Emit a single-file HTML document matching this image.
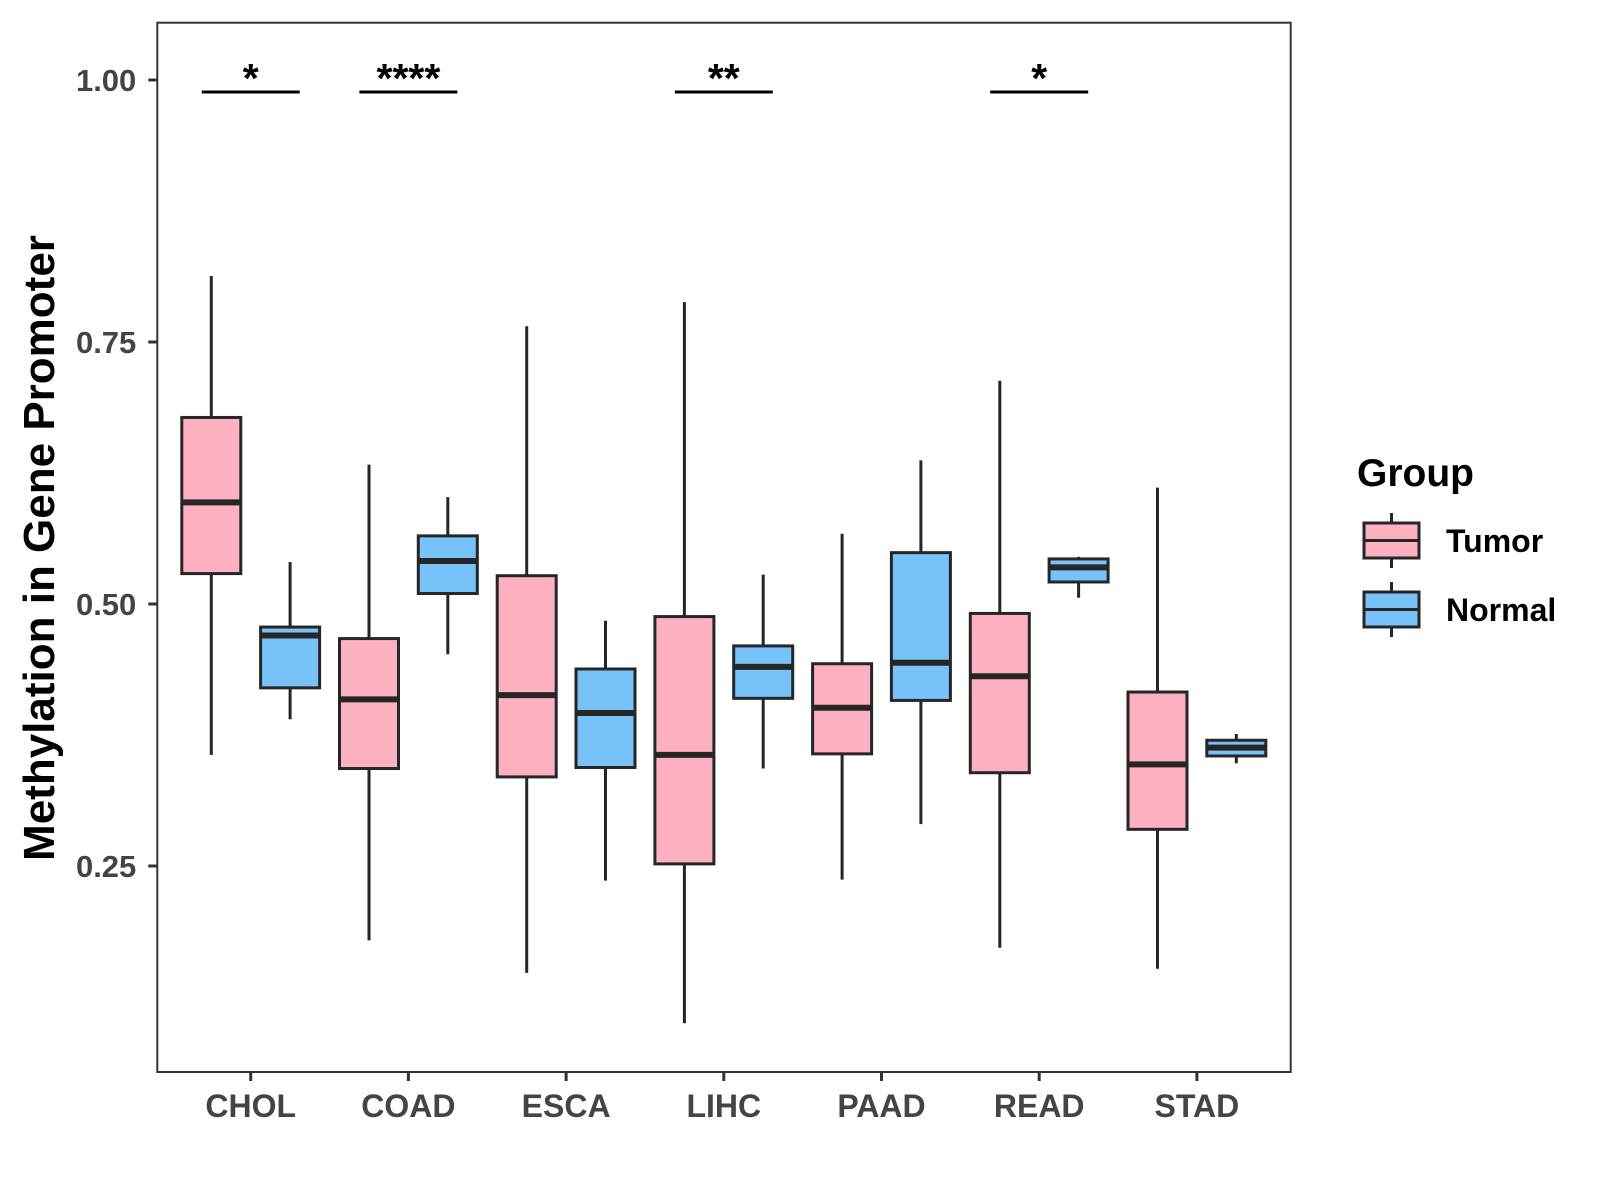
<!DOCTYPE html>
<html><head><meta charset="utf-8">
<style>
html,body{margin:0;padding:0;background:#fff;}
svg{display:block;}
text{font-family:"Liberation Sans",Arial,sans-serif;font-weight:bold;}
</style></head>
<body>
<svg id="chart" width="1600" height="1200" viewBox="0 0 1600 1200" xmlns="http://www.w3.org/2000/svg">
<rect x="0" y="0" width="1600" height="1200" fill="#fff"/>
<g id="plot"></g>
</svg>
<script>
const categories = ["CHOL","COAD","ESCA","LIHC","PAAD","READ","STAD"];
// [whiskerLow, q1, median, q3, whiskerHigh]
const tumorStats = [
  [0.356,0.529,0.597,0.678,0.813],
  [0.179,0.343,0.409,0.467,0.633],
  [0.148,0.335,0.413,0.527,0.765],
  [0.100,0.252,0.356,0.488,0.788],
  [0.237,0.357,0.401,0.443,0.567],
  [0.172,0.339,0.431,0.491,0.713],
  [0.152,0.285,0.347,0.416,0.611]
];
const normalStats = [
  [0.390,0.420,0.470,0.478,0.540],
  [0.452,0.510,0.541,0.565,0.602],
  [0.236,0.344,0.396,0.438,0.484],
  [0.343,0.410,0.440,0.460,0.528],
  [0.290,0.408,0.444,0.549,0.637],
  [0.506,0.521,0.535,0.543,0.545],
  [0.348,0.355,0.363,0.370,0.376]
];
const sigLabels = ["*","****","","**","","*",""];
const yTicks = [0.25,0.50,0.75,1.00];
const yTickLabels = ["0.25","0.50","0.75","1.00"];

const NS="http://www.w3.org/2000/svg";
const g=document.getElementById('plot');
const L=157.3,R=1290.7,T=22.7,B=1072;
const yScale=v=>80+(1-v)*1048;
const xScale=i=>250.7+i*157.7;
const OFF=39.4,BW=59;
function mk(tag,attrs,parent){const e=document.createElementNS(NS,tag);for(const k in attrs)e.setAttribute(k,attrs[k]);(parent||g).appendChild(e);return e;}

const panel=mk('rect',{x:L,y:T,width:R-L,height:B-T,fill:'#fff',stroke:'#333','stroke-width':2});



yTicks.forEach((v,i)=>{
  const y=yScale(v);
  const t=mk('line',{x1:L-9,x2:L,y1:y,y2:y,stroke:'#333','stroke-width':3});
  
  
  const tx=mk('text',{x:L-21,y:y+11,'text-anchor':'end','font-size':31,fill:'#444'});
  tx.textContent=yTickLabels[i];
  
  
});
categories.forEach((c,i)=>{
  const x=xScale(i);
  const t=mk('line',{x1:x,x2:x,y1:B,y2:B+9,stroke:'#333','stroke-width':3});
  
  
  const tx=mk('text',{x:x,y:B+45,'text-anchor':'middle','font-size':32,fill:'#444'});
  tx.textContent=c;
  
  
});

function box(cx,s,fill,name){
  const grp=mk('g',{});
  
  
  mk('line',{x1:cx,x2:cx,y1:yScale(s[4]),y2:yScale(s[3]),stroke:'#262626','stroke-width':3},grp);
  mk('line',{x1:cx,x2:cx,y1:yScale(s[1]),y2:yScale(s[0]),stroke:'#262626','stroke-width':3},grp);
  mk('rect',{x:cx-BW/2,y:yScale(s[3]),width:BW,height:Math.max(0,yScale(s[1])-yScale(s[3])),fill:fill,stroke:'#262626','stroke-width':3},grp);
  mk('line',{x1:cx-BW/2,x2:cx+BW/2,y1:yScale(s[2]),y2:yScale(s[2]),stroke:'#262626','stroke-width':6},grp);
}
categories.forEach((c,i)=>{
  box(xScale(i)-OFF,tumorStats[i],'#FDB0C0','box-tumor-'+c.toLowerCase());
  box(xScale(i)+OFF,normalStats[i],'#77C2F8','box-normal-'+c.toLowerCase());
  if(sigLabels[i]){
    const x=xScale(i);
    const l=mk('line',{x1:x-49,x2:x+49,y1:92,y2:92,stroke:'#000','stroke-width':3});
    
    
    const t=mk('text',{x:x,y:92,'text-anchor':'middle','font-size':41,fill:'#000'});
    t.textContent=sigLabels[i];
    
    
  }
});

const yt=mk('text',{x:0,y:0,transform:'translate(54,548) rotate(-90)','text-anchor':'middle','font-size':44,fill:'#000'});
yt.textContent='Methylation in Gene Promoter';



const lt=mk('text',{x:1357,y:486,'font-size':39,fill:'#000'});
lt.textContent='Group';


[['Tumor','#FDB0C0',523],['Normal','#77C2F8',592]].forEach(([lab,col,y0])=>{
  const grp=mk('g',{});
  
  
  const cx=1391.5;
  mk('line',{x1:cx,x2:cx,y1:y0-10,y2:y0+45,stroke:'#262626','stroke-width':3},grp);
  mk('rect',{x:1364,y:y0,width:55,height:35,fill:col,stroke:'#262626','stroke-width':3},grp);
  mk('line',{x1:1364,x2:1419,y1:y0+17.5,y2:y0+17.5,stroke:'#262626','stroke-width':3},grp);
  const t=mk('text',{x:1446,y:y0+29,'font-size':32,fill:'#000'},grp);
  t.textContent=lab;
});
</script>
</body></html>
